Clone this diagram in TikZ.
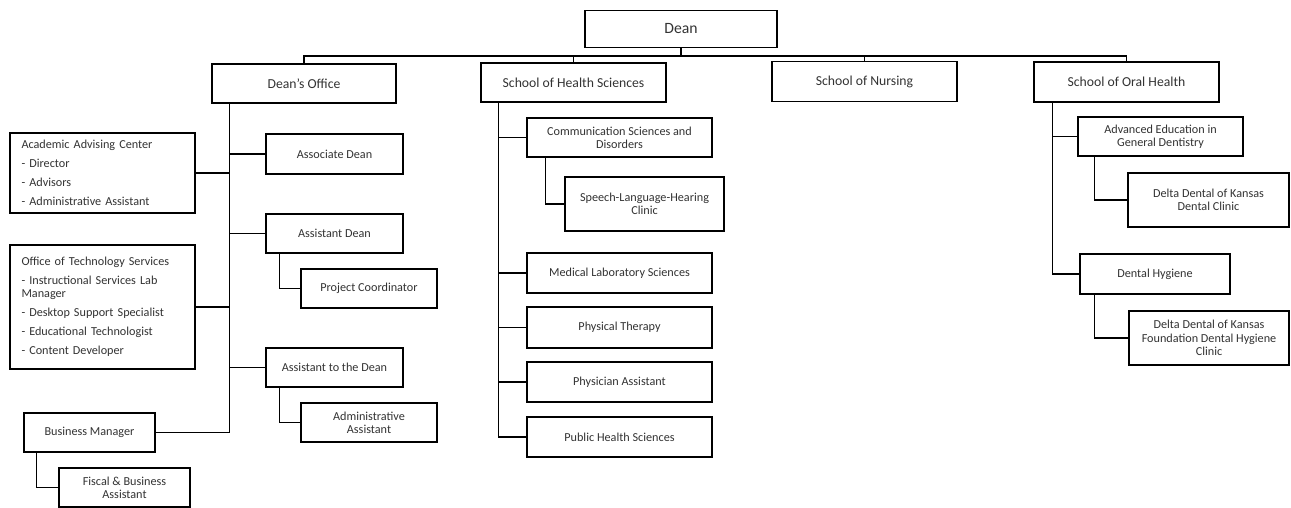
\documentclass[tikz,border=0pt]{standalone}
\usepackage{fontspec}
\setmainfont{Carlito}
\usetikzlibrary{positioning,calc}
\definecolor{txt}{HTML}{333333}
\tikzset{
  box/.style={draw=black, line width=1.4pt, fill=white, inner sep=0pt, align=center,
    text=txt, font={\fontsize{12.2}{13.3}\selectfont}},
  topbox/.style={box, font={\fontsize{13.7}{15}\selectfont}},
  bigbox/.style={box, font={\fontsize{15.7}{18}\selectfont}},
  conn/.style={draw=black, line width=1.3pt}
}
\begin{document}
\begin{tikzpicture}[x=1pt,y=-1pt]
\useasboundingbox (0,0) rectangle (1291,508);
\coordinate (busy) at (0,56);
% top level
\node[bigbox, minimum width=192pt, minimum height=37pt] (dean) at (681,29) {Dean};
\node[topbox, minimum width=184pt, minimum height=39pt] (do) at (304,83.5) {Dean\char"0027 s Office};
\node[topbox, minimum width=185pt, minimum height=39pt] (hs) at (573.5,82.5) {School of Health Sciences};
\node[topbox, minimum width=185pt, minimum height=40pt] (nu) at (864.5,81.5) {School of Nursing};
\node[topbox, minimum width=185pt, minimum height=40pt] (oh) at (1126.5,82) {School of Oral Health};
% Dean's office children
\node[box, minimum width=185pt, minimum height=80pt, align=left, text width=162pt] (aac) at (102.5,173)
  {Academic Advising Center\\[5.7pt] - Director\\[5.7pt] - Advisors\\[5.7pt] - Administrative Assistant};
\node[box, minimum width=185pt, minimum height=124pt, align=left, text width=162pt] (ots) at (102.5,307)
  {Office of Technology Services\\[5.7pt] - Instructional Services Lab\\ Manager\\[5.7pt] - Desktop Support Specialist\\[5.7pt] - Educational Technologist\\[5.7pt] - Content Developer};
\node[box, minimum width=137pt, minimum height=40pt] (assoc) at (334.5,154) {Associate Dean};
\node[box, minimum width=137pt, minimum height=39pt] (asstd) at (334.5,233.5) {Assistant Dean};
\node[box, minimum width=136pt, minimum height=39pt] (pc) at (369,288.5) {Project Coordinator};
\node[box, minimum width=137pt, minimum height=39pt] (attd) at (334.5,367.5) {Assistant to the Dean};
\node[box, minimum width=136pt, minimum height=39pt] (aa) at (369,422.5) {Administrative\\Assistant};
\node[box, minimum width=131pt, minimum height=39pt] (bm) at (89.5,432.5) {Business Manager};
\node[box, minimum width=131pt, minimum height=39pt] (fba) at (124.5,487.5) {Fiscal \& Business\\Assistant};
% Health sciences children
\node[box, minimum width=185pt, minimum height=39pt] (csd) at (619.5,137.5) {Communication Sciences and\\Disorders};
\node[box, minimum width=159pt, minimum height=54pt] (slh) at (644.5,204) {Speech-Language-Hearing\\Clinic};
\node[box, minimum width=185pt, minimum height=40pt] (mls) at (619.5,273) {Medical Laboratory Sciences};
\node[box, minimum width=185pt, minimum height=41pt] (pt) at (619.5,327.5) {Physical Therapy};
\node[box, minimum width=185pt, minimum height=40pt] (pa) at (619.5,382) {Physician Assistant};
\node[box, minimum width=185pt, minimum height=40pt] (phs) at (619.5,437) {Public Health Sciences};
% Oral health children
\node[box, minimum width=165pt, minimum height=39pt] (aegd) at (1160.5,136.5) {Advanced Education in\\General Dentistry};
\node[box, minimum width=161pt, minimum height=54pt] (ddk) at (1208.5,200) {Delta Dental of Kansas\\Dental Clinic};
\node[box, minimum width=150pt, minimum height=40pt] (dh) at (1155,274) {Dental Hygiene};
\node[box, minimum width=160pt, minimum height=54pt] (ddkf) at (1209,338) {Delta Dental of Kansas\\Foundation Dental Hygiene\\Clinic};
% trunk coordinates
\coordinate (dotr) at ([xshift=18pt]do.south west);
\coordinate (hstr) at ([xshift=18pt]hs.south west);
\coordinate (ohtr) at ([xshift=19pt]oh.south west);
\coordinate (asstdtr) at ([xshift=14pt]asstd.south west);
\coordinate (attdtr) at ([xshift=14pt]attd.south west);
\coordinate (bmtr) at ([xshift=13pt]bm.south west);
\coordinate (csdtr) at ([xshift=19pt]csd.south west);
\coordinate (aegdtr) at ([xshift=17pt]aegd.south west);
\coordinate (dhtr) at ([xshift=15pt]dh.south west);
% connectors from Dean
\draw[conn] (dean.south) -- (dean.south |- busy) -| (do.north);
\draw[conn] (dean.south) -- (dean.south |- busy) -| (hs.north);
\draw[conn] (dean.south) -- (dean.south |- busy) -| (nu.north);
\draw[conn] (dean.south) -- (dean.south |- busy) -| (oh.north);
% Dean's office
\draw[conn] (dotr) |- (bm.east);
\draw[conn] (aac.east) -- (aac.east -| dotr);
\draw[conn] (ots.east) -- (ots.east -| dotr);
\draw[conn] (assoc.west) -- (assoc.west -| dotr);
\draw[conn] (asstd.west) -- (asstd.west -| dotr);
\draw[conn] (attd.west) -- (attd.west -| dotr);
\draw[conn] (asstdtr) |- (pc.west);
\draw[conn] (attdtr) |- (aa.west);
\draw[conn] (bmtr) |- (fba.west);
% Health sciences
\draw[conn] (hstr) |- (phs.west);
\draw[conn] (csd.west) -- (csd.west -| hstr);
\draw[conn] (mls.west) -- (mls.west -| hstr);
\draw[conn] (pt.west) -- (pt.west -| hstr);
\draw[conn] (pa.west) -- (pa.west -| hstr);
\draw[conn] (csdtr) |- (slh.west);
% Oral health
\draw[conn] (ohtr) |- (dh.west);
\draw[conn] (aegd.west) -- (aegd.west -| ohtr);
\draw[conn] (aegdtr) |- (ddk.west);
\draw[conn] (dhtr) |- (ddkf.west);
\end{tikzpicture}
\end{document}
